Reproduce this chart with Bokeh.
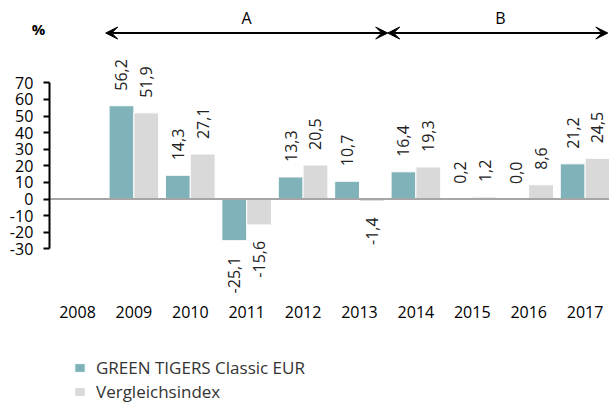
import math
from bokeh.plotting import figure
from bokeh.models import (Range1d, FixedTicker, Arrow, VeeHead, Label,
                          Legend, LegendItem, ColumnDataSource)
from bokeh.core.properties import value
from bokeh.embed import file_html
from bokeh.resources import INLINE

# ---- data ----
YEARS = [2008, 2009, 2010, 2011, 2012, 2013, 2014, 2015, 2016, 2017]
BAR_YEARS = [2009, 2010, 2011, 2012, 2013, 2014, 2015, 2016, 2017]
FUND = [56.2, 14.3, -25.1, 13.3, 10.7, 16.4, 0.2, 0.0, 21.2]
INDEX = [51.9, 27.1, -15.6, 20.5, -1.4, 19.3, 1.2, 8.6, 24.5]
SERIES_NAMES = ["GREEN TIGERS Classic EUR", "Vergleichsindex"]
Y_TICKS = [-30, -20, -10, 0, 10, 20, 30, 40, 50, 60, 70]
PERIODS = ["A", "B"]
PERIOD_START = [2009, 2014]
PERIOD_END = [2013, 2017]
UNIT = "%"

# ---- style ----
TEAL = "#80B3B9"
GREY = "#D9D9D9"
FONT = "Open Sans"
BAR_W = 0.44
ARROW_Y = 100
XAXIS_Y = -60

X_START, X_END = -1.365, 9.433
AXIS_X = -0.5

p = figure(width=609, height=405, output_backend="svg", toolbar_location=None,
           x_range=Range1d(X_START, X_END), y_range=Range1d(-124.4, 119.6),
           min_border_left=0, min_border_right=0, min_border_top=0,
           min_border_bottom=0)
p.background_fill_color = "white"
p.border_fill_color = "white"
p.outline_line_color = None
p.grid.visible = False

pos = {y: i for i, y in enumerate(YEARS)}
bx = [pos[y] for y in BAR_YEARS]

src_f = ColumnDataSource(dict(x=[x - BAR_W / 2 for x in bx], top=FUND))
src_i = ColumnDataSource(dict(x=[x + BAR_W / 2 for x in bx], top=INDEX))
r_f = p.vbar(x="x", top="top", bottom=0, width=BAR_W, source=src_f,
             fill_color=TEAL, line_color="white", line_width=1)
r_i = p.vbar(x="x", top="top", bottom=0, width=BAR_W, source=src_i,
             fill_color=GREY, line_color="white", line_width=1)

# zero line
p.segment(x0=[AXIS_X], x1=[X_END], y0=[0], y1=[0], line_color="#A6A6A6", line_width=2)

# value labels
def fmt(v):
    return f"{v:.1f}".replace(".", ",")

lx_pos, ly_pos, lt_pos = [], [], []
lx_neg, ly_neg, lt_neg = [], [], []
for xs, vals in ((src_f.data["x"], FUND), (src_i.data["x"], INDEX)):
    for x, v in zip(xs, vals):
        if v >= 0:
            lx_pos.append(x); ly_pos.append(v); lt_pos.append(fmt(v))
        else:
            lx_neg.append(x); ly_neg.append(v); lt_neg.append(fmt(v))

common = dict(angle=math.pi / 2, text_font=value(FONT), text_font_size="16px",
              text_color="#222222", text_baseline="middle")
p.text(x=lx_pos, y=ly_pos, text=lt_pos, text_align="left", y_offset=-15, **common)
p.text(x=lx_neg, y=ly_neg, text=lt_neg, text_align="right", y_offset=16, **common)

# period arrows
a_src = ColumnDataSource(dict(
    xs=[pos[s] - 0.5 for s in PERIOD_START],
    xe=[min(pos[e] + 0.5, X_END - 0.03) for e in PERIOD_END],
    y=[ARROW_Y] * len(PERIODS)))
p.add_layout(Arrow(x_start="xs", y_start="y", x_end="xe", y_end="y", source=a_src,
                   line_width=2, line_color="black",
                   start=VeeHead(size=12, fill_color="black", line_color="black"),
                   end=VeeHead(size=12, fill_color="black", line_color="black")))
p.text(x=[(pos[s] + pos[e]) / 2 for s, e in zip(PERIOD_START, PERIOD_END)],
       y=[ARROW_Y] * len(PERIODS), text=PERIODS, text_align="center",
       text_baseline="bottom", y_offset=-4, text_font=value(FONT),
       text_font_size="16px", text_color="black")

p.add_layout(Label(x=38, x_units="screen", y=102.7, text=UNIT, text_align="center",
                   text_baseline="middle", text_font=FONT, text_font_size="15px",
                   text_font_style="bold", text_color="black"))

# axes
ya = p.yaxis[0]
ya.fixed_location = AXIS_X
ya.ticker = FixedTicker(ticks=Y_TICKS)
ya.bounds = (min(Y_TICKS), max(Y_TICKS))
ya.major_label_overrides = {t: str(t) for t in Y_TICKS}
ya.axis_line_width = 2
ya.axis_line_color = "black"
ya.major_tick_line_width = 2
ya.major_tick_line_color = "black"
ya.major_tick_in = 0
ya.major_tick_out = 6
ya.minor_tick_line_color = None
ya.major_label_standoff = 10
ya.major_label_text_font = FONT
ya.major_label_text_font_size = "16px"
ya.major_label_text_color = "black"

xa = p.xaxis[0]
xa.fixed_location = XAXIS_Y
xa.ticker = FixedTicker(ticks=list(range(len(YEARS))))
xa.major_label_overrides = {i: str(y) for i, y in enumerate(YEARS)}
xa.axis_line_color = None
xa.major_tick_line_color = None
xa.minor_tick_line_color = None
xa.major_label_standoff = 1
xa.major_label_text_font = FONT
xa.major_label_text_font_size = "16px"
xa.major_label_text_color = "black"

legend = Legend(items=[LegendItem(label=SERIES_NAMES[0], renderers=[r_f]),
                       LegendItem(label=SERIES_NAMES[1], renderers=[r_i])],
                location=(73, 2), orientation="vertical",
                glyph_width=13, glyph_height=11, label_standoff=10,
                label_height=20, spacing=1, padding=0, margin=0,
                border_line_color=None, background_fill_alpha=0,
                label_text_font=FONT, label_text_font_size="17px",
                label_text_color="#333333")
p.add_layout(legend)

open("out.html", "w").write(file_html(p, INLINE))
